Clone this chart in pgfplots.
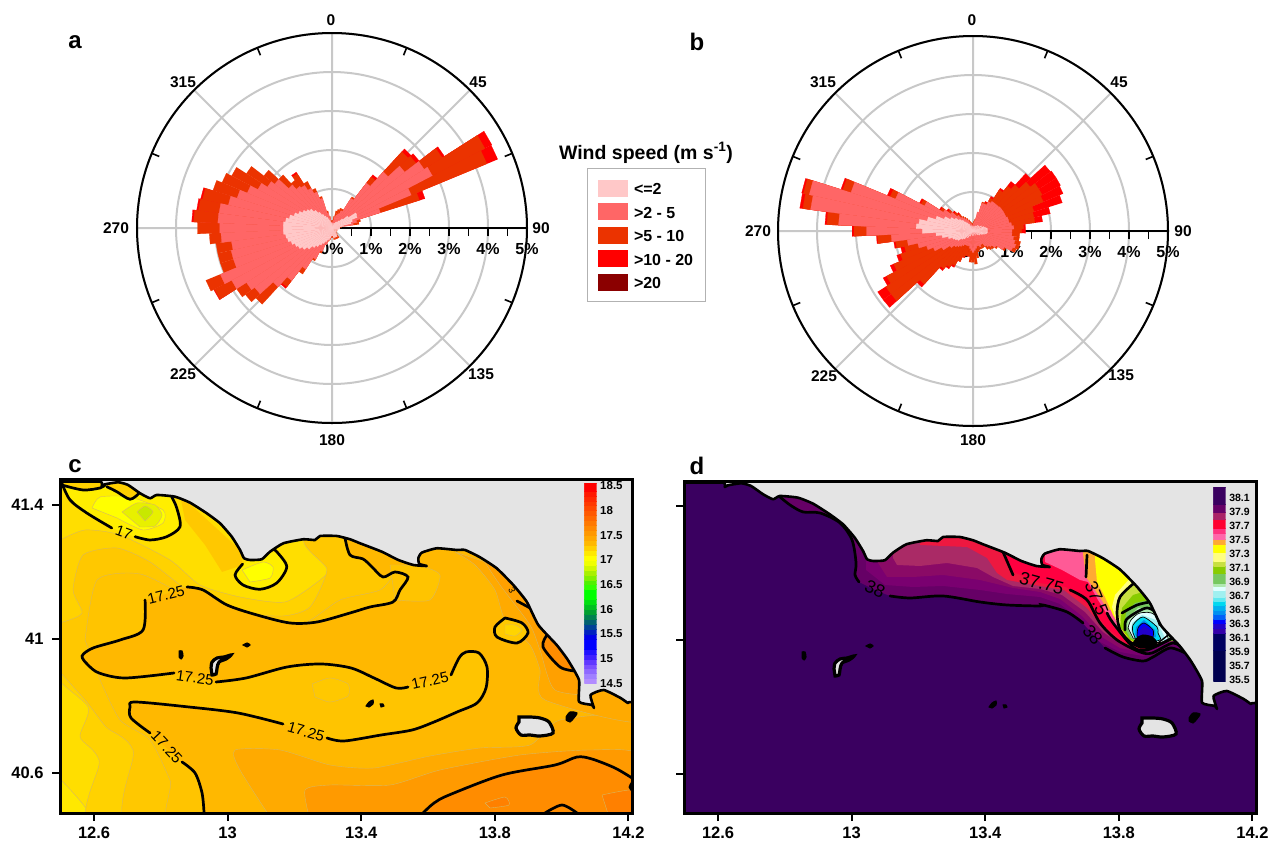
\documentclass[border=0pt]{standalone}
\usepackage{fontspec}
\setmainfont{Liberation Sans}
\usepackage{pgfplots}
\pgfplotsset{compat=1.18}
\usepackage{pgfplotstable}
\usepgfplotslibrary{polar}
\definecolor{cgrid}{HTML}{C8C8C8}
\definecolor{cland}{HTML}{E4E4E4}
\definecolor{rlight}{HTML}{FFC8C8}
\definecolor{rpink}{HTML}{FF6666}
\definecolor{rorange}{HTML}{EB3300}
\definecolor{rred}{HTML}{FF0000}
\definecolor{rdark}{HTML}{8B0000}
\definecolor{band}{HTML}{D8B860}
% wind rose: compass direction / percent, 5 degree sectors
\newcommand\rose[2]{\foreach \c/\r in {#2}{%
  \pgfmathsetmacro\aa{90-\c+2.5}\pgfmathsetmacro\bb{90-\c-2.5}%
  \edef\tmp{\noexpand\addplot[draw=#1,line width=.25pt,fill=#1,forget plot] coordinates {(0,0)(\aa,\r)(\bb,\r)};}\tmp}}
\newcommand\poly[2]{\xglobal\definecolor{h#1}{HTML}{#1}\addplot[fill=h#1,draw=band,line width=.4pt,smooth,tension=.4] coordinates {#2} --cycle;}
\newcommand\polyn[2]{\xglobal\definecolor{h#1}{HTML}{#1}\addplot[fill=h#1,draw=none] coordinates {#2} --cycle;}
\newcommand\polyk[2]{\xglobal\definecolor{h#1}{HTML}{#1}\addplot[fill=h#1,draw=black,line width=.7pt,smooth,tension=.5] coordinates {#2} --cycle;}
\newcommand\cont[1]{\addplot[black,line width=2.7pt,smooth,tension=.5,line cap=round] coordinates {#1};}
\newcommand\contt[1]{\addplot[black,line width=1.4pt,smooth,tension=.5,line cap=round] coordinates {#1};}
\newcommand\isl[1]{\addplot[fill=cland,draw=black,line width=3.2pt,smooth,tension=.5] coordinates {#1} --cycle;}
\newcommand\islk[1]{\addplot[fill=black,draw=black,line width=1pt,smooth,tension=.5] coordinates {#1} --cycle;}
\newcommand\s[3]{\xglobal\definecolor{h#3}{HTML}{#3}\addplot[fill=h#3,draw=h#3,line width=.1pt] coordinates {(0,#1)(1,#1)(1,#2)(0,#2)} --cycle;}
\pgfplotstableread{
x y
61.7 481.7
100 481.7
101.7 486
105 484.3
118.3 482.3
128 485
140 493.3
150 498.3
156.7 495
175 496.7
190 502.7
206.7 513.3
220 523.3
231.7 536.7
240 550
244 558.3
250 560
261.7 559.3
270 551.7
283.3 543.3
303.3 539.3
315 540
320 536
336.7 536
350 539.3
360 543.3
381.7 551.7
398.3 560
413.3 565
426.7 566
419.3 564
418.3 558.3
421.7 552.7
436.7 548.3
456.7 550
465 550
480 557.3
496.7 568.3
513.3 585
526.7 601.7
538.3 625
556.7 645
567.9 660
579 680
579 701.7
592 705
594 708
590.5 695
603.7 690
620.6 698
628 703
632 702
700 702
700 400
0 400
0 470
55 472
}\coast
\pgfplotsset{
 rosebase/.style={
  scale only axis,width=390pt,height=390pt,anchor=center,
  xmin=0,xmax=360,ymin=0,ymax=5,
  xtick={0,45,...,315},xticklabels={},
  minor xtick={22.5,67.5,...,337.5},
  ytick={0,1,2,3,4,5},yticklabels={0\%,1\%,2\%,3\%,4\%,5\%},
  minor y tick num=1,
  grid=major,major grid style={color=cgrid,line width=2pt},
  axis line style={line width=2pt,black},
  major x tick style={draw=none},
  minor x tick style={black,line width=1.6pt},
  minor y tick style={black,line width=1.6pt},
  major y tick style={black,line width=1.6pt},
  minor tick length=8pt,
  xtick align=outside,
  ytick align=outside,
  major tick length=8pt,
  tick label style={font=\bfseries\fontsize{16}{18}\selectfont},
  yticklabel style={yshift=-29pt,xshift=0pt,anchor=center},
 },
 mapbase/.style={
  scale only axis,width=572pt,anchor=south west,
  xmin=12.498,xmax=14.2108,
  xtick={12.6,13,13.4,13.8,14.2},xticklabels={12.6,13,13.4,13.8,14.2},
  xtick pos=bottom,ytick pos=left,tick align=outside,
  major tick length=8pt,
  tick style={black,line width=2pt},
  axis line style={line width=3pt,black},
  axis on top,
  tick label style={font=\bfseries\fontsize{16.5}{18}\selectfont},
  every axis plot/.append style={mark=none},
  xticklabel style={yshift=-2pt},
  yticklabel style={xshift=-5pt},
 },
 cbbase/.style={
  scale only axis,width=12.4pt,anchor=south west,xmin=0,xmax=1,
  xtick=\empty,ytick pos=right,
  axis line style={draw=none},
  major tick length=0pt,
  every axis plot/.append style={mark=none},
 },
}
\begin{document}
\begin{tikzpicture}[x=1pt,y=1pt]
\useasboundingbox (0,0) rectangle (1279,-852);
% ---------- a
\begin{polaraxis}[rosebase,at={(332pt,-228pt)}]
\rose{rred}{40/1.72,45/2.75,50/2.82,55/3.42,60/4.62,65/4.6,70/2.5,275/3.6,280/3.5,285/3.45,325/1.7,220/1.95,240/3.42}
\rose{rorange}{0/.18,5/.2,10/.3,15/.45,20/.5,25/.55,30/.55,35/.95,40/1.65,45/2.65,50/2.72,55/3.35,60/4.42,65/4.3,70/2.35,75/.75,80/.7,85/.25,90/.2,95/.18,100/.15,110/.15,120/.15,130/.15,140/.2,145/.3,150/.3,155/.3,160/.3,165/.3,170/.3,175/.25,180/.25,185/.25,190/.3,195/.35,200/.45,205/.7,210/.95,215/1.4,220/1.9,225/2.65,230/2.8,235/2.9,240/3.4,245/3.5,250/3.0,255/3.0,260/3.0,265/3.15,270/3.45,275/3.55,280/3.45,285/3.4,290/3.2,295/3.05,300/2.9,305/2.6,310/2.2,315/1.85,320/1.55,325/1.65,330/1.35,335/1.1,340/.85,345/.45,350/.3,355/.2}
\rose{rpink}{0/.15,5/.15,10/.2,15/.3,20/.35,25/.4,30/.5,35/.9,40/1.45,45/1.95,50/2.35,55/2.8,60/2.9,65/2.2,70/1.3,75/.65,80/.55,85/.2,90/.2,95/.18,100/.15,180/.2,185/.22,190/.28,195/.33,200/.45,205/.65,210/.9,215/1.25,220/1.7,225/2.05,230/2.5,235/2.6,240/2.9,245/3.1,250/2.65,255/2.65,260/2.6,265/2.85,270/2.88,275/2.93,280/2.92,285/2.72,290/2.55,295/2.35,300/2.14,305/1.96,310/1.85,315/1.5,320/1.35,325/1.3,330/1.15,335/1.0,340/.8,345/.4,350/.25,355/.15}
\rose{rlight}{0/.12,10/.12,20/.12,30/.14,35/.18,40/.2,45/.25,50/.35,55/.5,60/.72,65/.7,70/.55,75/.5,80/.3,85/.2,90/.2,95/.2,100/.18,105/.15,115/.15,125/.15,135/.15,145/.2,150/.25,155/.25,160/.25,165/.25,170/.25,175/.2,180/.2,185/.2,190/.25,195/.3,200/.33,205/.38,210/.45,215/.52,220/.6,225/.68,230/.8,235/.9,240/.98,245/1.03,250/1.1,255/1.17,260/1.2,265/1.25,270/1.25,275/1.25,280/1.2,285/1.12,290/1.02,295/.93,300/.85,305/.78,310/.72,315/.62,320/.52,325/.42,330/.35,335/.3,340/.25,345/.2,350/.15,355/.12}
\end{polaraxis}
\foreach \x/\y/\t in {331/20/0,478/82/45,541/228/90,481/374/135,332/440/180,183/374/225,116/228/270,183/82/315,972/20/0,1119/82/45,1183/231/90,1121/375/135,973/440/180,824/376/225,758/231/270,823/82/315}
  \node[font=\bfseries\fontsize{15.5}{18}\selectfont,inner sep=0pt] at (\x,-\y) {\t};
% ---------- b
\begin{polaraxis}[rosebase,at={(973pt,-231pt)}]
\rose{rred}{25/.82,30/1.0,35/1.3,40/1.6,45/2.0,50/2.5,55/2.53,60/2.53,65/2.5,70/2.4,75/2.03,80/1.8,85/1.35,90/1.35,220/1.28,225/1.95,230/2.9,235/2.9,240/2.6,245/2.3,250/2.05,255/1.9,260/2.05,265/2.48,270/3.1,275/3.8,280/4.48,285/4.5,290/3.55,295/2.38,300/1.55,305/1.02,310/.85,315/.7,320/.6,215/1.15,210/1.05,205/.85,200/.72,195/.66,190/.66}
\rose{rorange}{0/.2,5/.25,10/.3,15/.4,20/.78,25/.78,30/.95,35/1.25,40/1.45,45/1.6,50/1.85,55/2.0,60/2.0,65/1.95,70/1.64,75/1.6,80/1.6,85/1.3,90/1.25,95/1.2,100/1.2,105/1.25,110/1.25,115/1.2,120/.95,125/.75,130/.68,135/.65,140/.6,145/.5,150/.5,155/.5,160/.5,165/.55,170/.7,175/.85,180/.8,185/.8,190/.65,195/.65,200/.7,205/.85,210/1.0,215/1.1,220/1.22,225/1.85,230/2.65,235/2.65,240/2.5,245/2.2,250/1.95,255/1.8,260/2.0,265/2.45,270/3.05,275/3.75,280/4.4,285/4.45,290/3.5,295/2.3,300/1.5,305/.98,310/.8,315/.65,320/.55,325/.45,330/.4,335/.35,340/.3,345/.25,350/.22,355/.2}
\rose{rpink}{0/.15,5/.2,10/.25,15/.5,20/.75,25/.75,30/.85,35/.9,40/.9,45/.9,50/.92,55/.92,60/.92,65/.92,70/.95,75/.95,80/1.0,85/1.05,90/1.0,95/1.0,100/1.05,105/1.1,110/1.15,115/1.1,120/.9,125/.7,130/.6,135/.55,140/.5,145/.4,150/.4,155/.45,160/.4,165/.4,170/.45,175/.5,180/.55,185/.5,190/.45,195/.4,200/.4,205/.4,210/.4,215/.45,220/.5,225/.55,230/.6,235/.7,240/.9,245/1.1,250/1.25,255/1.45,260/1.7,265/2.1,270/2.73,275/3.45,280/4.2,285/4.3,290/3.28,295/2.15,300/1.4,305/.9,310/.72,315/.55,320/.45,325/.4,330/.35,335/.3,340/.25,345/.2,350/.18,355/.15}
\rose{rlight}{0/.12,10/.12,20/.12,30/.15,40/.18,50/.2,60/.25,70/.3,75/.33,80/.37,85/.37,90/.37,95/.37,100/.35,105/.3,110/.25,120/.2,130/.15,150/.12,170/.12,190/.12,210/.15,220/.22,230/.3,235/.35,240/.45,245/.5,250/.55,255/.65,260/.8,265/.95,270/1.3,275/1.46,280/1.4,285/1.2,290/1.0,295/.8,300/.65,305/.55,310/.45,315/.38,320/.3,325/.25,330/.2,340/.15,350/.12}
\end{polaraxis}
% ---------- legend
\begin{axis}[scale only axis,width=119pt,height=135pt,at={(587pt,-303pt)},anchor=south west,hide axis,xmin=0,xmax=1,ymin=0,ymax=1,
  legend style={at={(0,1)},anchor=north west,draw=gray!60,line width=1pt,fill=white,inner xsep=10.5pt,inner ysep=11pt,
   font=\bfseries\fontsize{16}{17}\selectfont,row sep=6.6pt},
  legend cell align=left,
  legend image code/.code={\fill[#1] (0pt,-8.5pt) rectangle (30pt,8.5pt);}]
\addlegendimage{fill=rlight,draw=none}\addlegendentry{\hspace{4pt}\raisebox{-3.5pt}{<=2}}
\addlegendimage{fill=rpink,draw=none}\addlegendentry{\hspace{4pt}\raisebox{-3.5pt}{>2 - 5}}
\addlegendimage{fill=rorange,draw=none}\addlegendentry{\hspace{4pt}\raisebox{-3.5pt}{>5 - 10}}
\addlegendimage{fill=rred,draw=none}\addlegendentry{\hspace{4pt}\raisebox{-3.5pt}{>10 - 20}}
\addlegendimage{fill=rdark,draw=none}\addlegendentry{\hspace{4pt}\raisebox{-3.5pt}{>20}}
\end{axis}
\node[font=\bfseries\fontsize{19.5}{20}\selectfont] at (646,-153) {Wind speed (m s\textsuperscript{-1})};
% ---------- c
\begin{axis}[mapbase,at={(60pt,-813pt)},height=333.5pt,ymin=40.4806,ymax=41.476,
  ytick={40.6,41,41.4},yticklabels={40.6,41,41.4},
  x filter/.expression={12.6+(x-94)/334},y filter/.expression={41-(y-639)/335}]
\polyn{FFDE00}{(0,400)(700,400)(700,900)(0,900)}
\poly{FFE800}{(40,770)(61,780)(92,820)(40,825)}
\poly{FFD200}{(60,540)(85,530)(120,535)(170,560)(200,585)(240,597)(285,602)(320,580)(345,555)(350,530)(700,500)(700,850)(120,850)(99,760)(80,737)(88,707)(50,670)(40,600)}
\poly{FFC800}{(40,626)(63,622)(82,613)(73,590)(83,555)(117,548)(150,562)(190,592)(237,612)(283,616)(310,607)(327,570)(320,530)(700,500)(700,850)(155,850)(133,750)(106,727)(85,700)(40,650)}
\poly{FFC400}{(85,640)(97,580)(140,574)(190,598)(240,622)(300,625)(340,600)(380,590)(420,565)(600,600)(700,850)(200,850)(170,780)(150,740)(120,720)(100,680)}
\polyn{FFB800}{(345,530)(350,555)(363,559)(372,567)(383,577)(395,572)(408,577)(400,590)(393,602)(370,607)(350,613)(317,622)(290,623)(257,615)(227,605)(203,590)(187,587)(166,594)(145,600)(143,630)(120,640)(93,648)(82,656)(88,665)(99,673)(125,678)(174,673)(216,682)(246,678)(287,667)(321,664)(351,668)(374,678)(396,688)(408,687)(451,675)(459,658)(466,652)(479,653)(487,667)(486,688)(477,703)(457,712)(434,722)(412,730)(381,735)(344,741)(327,738)(283,724)(238,713)(189,707)(135,702)(130,707)(131,718)(150,733)(182,762)(195,773)(202,793)(204,820)(700,820)(700,500)}
\poly{FFC800}{(312,684)(330,678)(348,684)(348,696)(330,702)(315,697)}
\poly{FFC400}{(390,565)(420,566)(440,575)(430,600)(395,600)}
\poly{FFAA00}{(272,820)(240,770)(235,750)(280,750)(330,765)(374,768)(430,756)(480,748)(530,745)(560,720)(640,720)(640,820)}
\poly{FFAA00}{(455,552)(475,565)(495,590)(505,620)(530,645)(540,670)(545,700)(650,720)(600,600)}
\poly{FFA000}{(480,555)(500,585)(530,625)(540,650)(555,690)(600,690)(580,620)}
\poly{FF9A00}{(310,820)(305,790)(330,785)(390,785)(440,770)(520,755)(590,750)(640,755)(640,820)}
\polyn{FF8C00}{(423,820)(434,803)(449,795)(502,775)(555,765)(577,757)(592,759)(615,768)(640,782)(640,820)}
\poly{FF8000}{(485,803)(505,797)(509,805)(490,808)}
\poly{FF8000}{(602,795)(640,790)(640,820)(610,820)}
\polyn{FF8C00}{(546,635)(542,647)(560,667)(575,672)(590,672)(570,640)}
\polyn{FFEE00}{(50,478)(61,483)(70,500)(87,513)(112,528)(135,537)(150,540)(167,537)(180,527)(177,508)(172,497)(140,490)(100,478)}
\poly{FFFF00}{(92,508)(100,497)(130,497)(163,510)(163,523)(143,530)(117,518)}
\poly{E8F000}{(122,512)(137,503)(155,505)(162,515)(155,526)(140,527)}
\poly{C8E800}{(137,512)(145,506)(153,512)(145,521)}
\polyn{FFD000}{(55,478)(104,478)(100,488)(83,490)(62,485)}
\polyn{FFD000}{(105,480)(140,485)(139,493)(130,499)(117,492)(107,487)}
\polyn{FFC800}{(180,495)(240,550)(243,565)(222,572)(205,545)(185,520)}
\polyn{FFEE00}{(243,564)(235,575)(243,585)(260,589)(277,583)(287,567)(277,552)(260,555)}
\poly{FFFF00}{(242,570)(263,562)(273,567)(270,578)(250,582)}
\polyn{FFC800}{(505,618)(495,627)(497,637)(517,643)(528,633)(522,623)}
\poly{FFD400}{(505,625)(515,625)(522,630)(515,636)(505,634)}
% contours
\cont{(61.7,485)(83,490)(100,488)(105,485)}
\cont{(106.7,486.7)(116.7,491.7)(130,499.3)(139,493.3)}
\cont{(61.7,483)(70,500)(86.7,513)(111.7,528)}
\cont{(135,536.7)(150,540)(166.7,536.7)(180,526.7)(176.7,508)(171.7,497)}
\cont{(242.7,564)(235,575)(243,585)(260,589.3)(276.7,583)(286.7,566.7)(276.7,551.7)(273,549)}
\cont{(345,538)(350,555)(363,559)(372,567)(383,577)(395,572)(408,577)(400,590)(393,602)(370,607)(350,613)(317,622)(290,623)(257,615)(227,605)(203,590)(187,587)}
\cont{(145,600)(143,630)(120,640)(93,648)(82,656)(88,665)(99,673)(125,678)(174,673)}
\cont{(216,682)(246,678)(287,667)(321,664)(351,668)(374,678)(396,688)(408,687)}
\cont{(451,675)(459,658)(466,652)(479,653)(487,667)(486,688)(477,703)(457,712)(434,722)(412,730)(381,735)(344,741)(327,738)}
\cont{(283,724)(238,713)(189,707)(135,702)(130,707)(131,718)(150,733)}
\cont{(182,762)(195,773)(202,793)(204,813)}
\cont{(505,618)(495,627)(497,637)(517,643)(528,633)(522,623)(505,618)}
\cont{(517,601)(530,608)}
\cont{(547,635)(543,647)(560,667)(575,671)}
\cont{(423,813)(434,803)(449,795)(502,775)(555,765)(577,757)(592,759)(615,768)(632,778)}
\cont{(545,813)(562,805)(577,813)}
\cont{(632,783)(630,787)(632,790)}
% land and coast
\addplot[fill=cland,draw=black,line width=2.6pt,line join=round,smooth,tension=.3] table[x=x,y=y]{\coast} --cycle;
% islands
\islk{(179,651)(182,651)(183,656)(181,659)(179,657)}
\isl{(211,668)(212,662)(217,658)(224,657)(231,655)(226,659)(219,662)(217,668)(216,674)(212,675)}
\islk{(243,645)(247,643)(250,645)(247,647)}
\islk{(366,706)(369,702)(373,700)(373,704)(369,707)}
\islk{(380,704)(383,704)(384,706)(381,707)}
\isl{(519,717)(530,717)(540,718)(549,722)(553,733)(540,736)(530,735)(521,735)(516,728)(519,722)}
\islk{(566,717)(570,712)(577,713)(574,718)(570,722)(566,720)}
\end{axis}
\foreach \x/\y/\r/\t in {124/532.7/-20/17,166/595/14/17.25,195/678/-8/17.25,430/680.7/13/17.25,306/731.7/-16/17.25,166.8/747/-47/17.25}
  \node[font=\fontsize{15}{17}\selectfont,rotate=\r,inner sep=0pt] at (\x,-\y) {\t};
\node[font=\fontsize{9}{10}\selectfont,rotate=-65,inner sep=0pt] at (512,-590) {3};
% colour bar c
\begin{axis}[cbbase,at={(584.3pt,-683.3pt)},height=200pt,ymin=14.5,ymax=18.55,
  ytick={14.5,15,...,18.5},yticklabels={14.5,15,15.5,16,16.5,17,17.5,18,18.5},
  tick label style={font=\bfseries\fontsize{11.5}{14}\selectfont}]
\s{14.5}{14.6}{B28CFF}\s{14.6}{14.7}{A080FF}\s{14.7}{14.8}{8E68FF}\s{14.8}{14.9}{7C50FF}\s{14.9}{15}{6038FF}\s{15}{15.1}{4020FF}\s{15.1}{15.2}{2010FF}\s{15.2}{15.4}{0000FF}\s{15.4}{15.5}{0000E8}\s{15.5}{15.6}{0020C0}\s{15.6}{15.7}{004098}\s{15.7}{15.8}{006070}\s{15.8}{15.9}{008050}\s{15.9}{16}{00A030}\s{16}{16.1}{00C020}\s{16.1}{16.2}{00E010}\s{16.2}{16.4}{00FF00}\s{16.4}{16.5}{30FF00}\s{16.5}{16.6}{50F000}\s{16.6}{16.7}{80F000}\s{16.7}{16.8}{A8F000}\s{16.8}{16.9}{D0F800}\s{16.9}{17}{F0FF00}\s{17}{17.1}{FFFF00}\s{17.1}{17.2}{FFE800}\s{17.2}{17.3}{FFD000}\s{17.3}{17.4}{FFB800}\s{17.4}{17.5}{FFA800}\s{17.5}{17.6}{FF9800}\s{17.6}{17.7}{FF8800}\s{17.7}{17.8}{FF7800}\s{17.8}{17.9}{FF6800}\s{17.9}{18}{FF5800}\s{18}{18.1}{FF4800}\s{18.1}{18.2}{FF3800}\s{18.2}{18.3}{FF2800}\s{18.3}{18.4}{FF1800}\s{18.4}{18.55}{FF0000}
\end{axis}
% ---------- d
\begin{axis}[mapbase,at={(684pt,-813pt)},height=331.5pt,ymin=40.4836,ymax=41.473,
  ytick={40.6,41,41.4},yticklabels={,,},
  x filter/.expression={12.6+(x-718)/334},y filter/.expression={41-(y-640)/335}]
\polyn{3A0060}{(600,400)(1400,400)(1400,900)(600,900)}
\polyn{660066}{(780,497)(790,505)(803,512)(820,513)(840,523)(852,540)(856,563)(855,575)(859,582)(875,590)(890,596)(910,598)(943,596)(980,602)(1007,605)(1040,606)(1043,605)(1067,612)(1083,623)(1095,637)(1105,648)(1123,657)(1143,661)(1153,657)(1170,648)(1185,653)(1195,640)(1195,470)(780,470)}
\polyn{7A0070}{(866,556)(866,570)(885,585)(913,587)(943,586)(980,590)(1007,594)(1040,597)(1060,604)(1080,620)(1100,642)(1120,652)(1143,656)(1155,652)(1172,643)(1190,650)(1190,470)(866,470)}
\polyn{8A0A66}{(878,563)(887,577)(913,577)(943,575)(980,580)(1013,588)(1040,592)(1060,599)(1082,616)(1100,636)(1120,648)(1143,653)(1170,641)(1190,645)(1190,470)(878,470)}
\polyn{AA2A66}{(893,558)(897,565)(920,566)(947,563)(977,568)(993,577)(1013,586)(1040,589)(1062,595)(1085,612)(1103,632)(1122,645)(1143,651)(1170,640)(1190,640)(1190,470)(893,470)}
\polyn{EE1840}{(920,470)(920,545)(967,547)(987,558)(997,573)(1007,580)(1040,586)(1064,590)(1087,608)(1105,630)(1124,644)(1143,650)(1172,639)(1190,635)(1190,470)}
\polyn{FF0040}{(1003,470)(1003,552)(1013,572)(1040,583)(1066,587)(1090,606)(1107,628)(1126,643)(1145,649)(1172,638)(1190,630)(1190,470)}
\polyn{FF5A96}{(1043,470)(1045,562)(1062,570)(1080,580)(1088,582)(1098,600)(1112,622)(1133,644)(1150,648)(1172,636)(1190,625)(1190,470)}
\polyn{FFAA33}{(1083,470)(1083,554)(1086,577)(1095,590)(1108,610)(1190,610)(1190,470)}
\polyn{FFFF00}{(1097,470)(1095,560)(1097,582)(1105,597)(1113,615)(1127,638)(1142,648)(1155,644)(1172,634)(1190,620)(1190,470)}
\polyn{FFFF80}{(1133,575)(1115,595)(1112,607)(1117,623)(1128,637)(1140,645)(1160,640)(1180,600)(1160,570)}
\polyn{C8E040}{(1119,597)(1116,608)(1121,623)(1130,636)(1140,643)(1165,640)(1185,600)(1160,570)(1140,580)}
\polyn{88CC00}{(1120,627)(1122,608)(1133,595)(1143,592)(1170,590)(1180,640)(1145,645)(1130,640)}
\polyn{77C860}{(1124,627)(1126,613)(1135,603)(1150,600)(1175,640)(1145,644)(1130,638)}
\polyn{B0E8B0}{(1127,627)(1128,618)(1138,608)(1153,608)(1172,640)(1145,643)(1132,638)}
\polyk{E0FFFF}{(1128,628)(1131,620)(1140,613)(1155,615)(1168,640)(1145,642)(1133,638)}
\polyn{A0F0F0}{(1131,630)(1132,623)(1142,615)(1156,620)(1166,640)(1145,642)(1134,638)}
\polyk{00D8F0}{(1133,633)(1133,625)(1143,617)(1157,627)(1158,633)(1160,640)(1145,642)(1135,638)}
\polyn{0090F0}{(1135,635)(1136,627)(1144,620)(1155,630)(1156,637)(1145,640)}
\polyk{0000FF}{(1137,637)(1138,628)(1144,623)(1153,630)(1153,637)}
\polyn{2200C8}{(1140,637)(1140,630)(1144,626)(1150,630)(1151,637)}
\islk{(1133,643)(1137,638)(1143,635)(1152,637)(1157,643)(1153,648)(1140,648)}
% contours
\cont{(780,497)(790,505)(803,512)(820,513)(840,523)(852,540)(856,563)(855,575)(859,582)}
\cont{(890,596)(910,598)(943,596)(980,602)(1007,605)(1040,606)(1043,605)(1067,612)(1083,623)}
\cont{(1105,648)(1123,657)(1143,661)(1153,657)(1170,648)(1185,653)}
\cont{(1003,552)(1013,575)}
\cont{(1070,590)(1087,600)(1100,623)(1117,640)(1140,652)(1152,653)(1173,643)(1185,650)}
\cont{(1087,555)(1086,577)}
\cont{(1107,613)(1113,623)(1133,647)(1147,650)(1173,638)}
\cont{(1133,584)(1120,597)(1117,613)(1120,630)(1130,642)(1140,647)}
\cont{(1122,613)(1137,605)(1150,602)}
\cont{(1125,630)(1126,620)(1137,612)(1147,608)(1155,612)(1160,625)}
\contt{(1158,643)(1172,632)}
\contt{(1155,646)(1175,636)}
% land
\addplot[fill=cland,draw=black,line width=2.6pt,line join=round,smooth,tension=.3] table[x expr=\thisrow{x}+623,y expr=\thisrow{y}+1]{\coast} --cycle;
% islands
\islk{(802,652)(805,652)(806,657)(804,660)(802,658)}
\isl{(834,669)(835,663)(840,659)(847,658)(854,656)(849,660)(842,663)(840,669)(839,675)(835,676)}
\islk{(866,646)(870,644)(873,646)(870,648)}
\islk{(989,707)(992,703)(996,701)(996,705)(992,708)}
\islk{(1003,705)(1006,705)(1007,707)(1004,708)}
\isl{(1142,718)(1153,718)(1163,719)(1172,723)(1176,734)(1163,737)(1153,736)(1144,736)(1139,729)(1142,723)}
\islk{(1189,718)(1193,713)(1200,714)(1197,719)(1193,723)(1189,721)}
\end{axis}
\foreach \x/\y/\r/\f/\t in {875/589/-25/18/38,1041.7/583.3/-15/18/37.75,1096.7/598/-68/18/37.5,1092.7/635/-50/18/38}
  \node[font=\fontsize{\f}{22}\selectfont,rotate=\r,inner sep=0pt] at (\x,-\y) {\t};
% colour bar d
\begin{axis}[cbbase,at={(1213.3pt,-681pt)},height=193.7pt,ymin=35.49,ymax=38.25,
  ytick={35.5,35.7,...,38.1},yticklabels={35.5,35.7,35.9,36.1,36.3,36.5,36.7,36.9,37.1,37.3,37.5,37.7,37.9,38.1},
  tick label style={font=\bfseries\fontsize{10.5}{12}\selectfont}]
\s{35.49}{35.93}{000050}\s{35.93}{36.17}{000060}\s{36.17}{36.24}{3300AA}\s{36.24}{36.31}{2200C8}\s{36.31}{36.38}{0000FF}\s{36.38}{36.45}{0060F8}\s{36.45}{36.5}{0090F0}\s{36.5}{36.57}{00B0F0}\s{36.57}{36.63}{00D8F0}\s{36.63}{36.69}{60E8F0}\s{36.69}{36.79}{A0F0F0}\s{36.79}{36.84}{E0FFFF}\s{36.84}{36.88}{B0E8B0}\s{36.88}{37.03}{77C860}\s{37.03}{37.13}{88CC00}\s{37.13}{37.2}{C8E040}\s{37.2}{37.33}{FFFF80}\s{37.33}{37.44}{FFFF00}\s{37.44}{37.51}{FFAA33}\s{37.51}{37.6}{FF66AA}\s{37.6}{37.67}{FF3380}\s{37.67}{37.8}{FF0030}\s{37.8}{37.9}{AA2266}\s{37.9}{38.01}{660066}\s{38.01}{38.25}{3A0060}
\end{axis}
% panel letters
\foreach \x/\y/\t in {75/42/a,697/42/b,75/466/c,697/466/d}
  \node[font=\bfseries\fontsize{24}{26}\selectfont,inner sep=0pt] at (\x,-\y) {\t};
\end{tikzpicture}
\end{document}
